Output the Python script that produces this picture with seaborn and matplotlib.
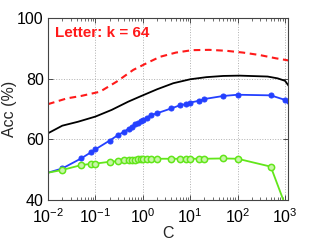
import numpy as np
import pandas as pd
import matplotlib
matplotlib.use("Agg")
import matplotlib.pyplot as plt
import matplotlib.ticker as mticker
import seaborn as sns

# smooth curves
c_red = [0.01, 0.025, 0.05, 0.125, 0.28, 0.63, 1.4, 2.3, 5, 11, 25, 57, 130, 290, 650, 1000, 1200]
acc_red = [71.6, 73.5, 74.3, 75.7, 79.0, 82.9, 85.6, 87.2, 88.6, 89.4, 89.5, 89.2, 88.6, 87.8, 86.7, 86.2, 86.0]

c_black = [0.01, 0.02, 0.043, 0.1, 0.22, 0.49, 0.87, 2, 4.4, 10, 22, 50, 110, 430, 700, 1000, 1200]
acc_black = [62.0, 64.5, 65.8, 67.5, 69.7, 72.4, 74.1, 76.5, 78.5, 79.8, 80.5, 80.9, 81.0, 80.7, 80.1, 79.3, 77.6]

# marked series
c_pts = [0.01, 0.02, 0.05, 0.08, 0.1, 0.2, 0.3, 0.4, 0.5, 0.6, 0.7, 0.8, 0.9,
         1, 1.2, 1.5, 2, 4, 6, 8, 10, 15, 20, 50, 100, 500, 1000]
acc_blue = [49.0, 50.4, 53.7, 55.7, 56.7, 59.6, 61.4, 62.5, 63.5, 64.2, 64.9, 65.5, 66.0,
            66.4, 67.1, 68.0, 68.6, 70.2, 71.2, 71.6, 72.1, 72.7, 73.3, 74.3, 74.7, 74.5, 73.0]
acc_green = [49.0, 49.9, 51.5, 51.9, 52.0, 52.6, 52.8, 53.1, 53.2, 53.3, 53.3, 53.4, 53.4,
             53.5, 53.5, 53.5, 53.6, 53.6, 53.6, 53.6, 53.6, 53.6, 53.6, 53.7, 53.6, 51.0, 38.5]
c_blue_tail = [1000, 2000]
acc_blue_tail = [73.0, 67.5]

title_text = "Letter: k = 64"

sns.set_style("ticks")
plt.rcParams['font.family'] = ['Liberation Sans', 'DejaVu Sans']
plt.rcParams['mathtext.fontset'] = 'custom'
plt.rcParams['mathtext.rm'] = 'Liberation Sans'
plt.rcParams['mathtext.it'] = 'Liberation Sans'

fig = plt.figure(figsize=(3.19, 2.40), dpi=100)
ax = fig.add_axes([48 / 319, 40 / 240, 240 / 319, 182 / 240])

red = "#ff1a1a"
blue = "#2440ff"
green = "#62e61a"

sns.lineplot(x=c_red, y=acc_red, ax=ax, color=red, linestyle=(0, (3.2, 2.2)), linewidth=1.5)
sns.lineplot(x=c_black, y=acc_black, ax=ax, color="black", linewidth=1.3)
sns.lineplot(x=c_blue_tail, y=acc_blue_tail, ax=ax, color=blue, linewidth=1.3)
sns.lineplot(x=c_pts, y=acc_blue, ax=ax, color=blue, linewidth=1.3, marker="o",
             markersize=3.6, markeredgecolor=blue, markerfacecolor=blue,
             markevery=slice(1, None))
sns.lineplot(x=c_pts, y=acc_green, ax=ax, color=green, linewidth=1.3, marker="o",
             markersize=4.5, markeredgecolor=green, markerfacecolor="#c8f5a8",
             markeredgewidth=1.1, markevery=slice(1, None))

ax.set_xscale("log")
ax.set_xlim(0.01, 10 ** 3.063)
ax.set_ylim(40, 100)
ax.set_xticks([1e-2, 1e-1, 1e0, 1e1, 1e2, 1e3])
ax.xaxis.set_major_formatter(mticker.LogFormatterMathtext())
ax.xaxis.set_minor_locator(mticker.LogLocator(base=10, subs=np.arange(2, 10), numticks=20))
ax.xaxis.set_minor_formatter(mticker.NullFormatter())
ax.set_yticks([40, 60, 80, 100])

ax.grid(True, which="major", linestyle=":", color="#b0b0b0", linewidth=0.7)
ax.tick_params(which="both", direction="in", top=True, right=True, colors="#333333",
               labelcolor="black", labelsize=11.5)
ax.tick_params(axis="x", which="major", pad=5)
ax.tick_params(axis="y", which="major", pad=3)
ax.tick_params(which="major", length=3.5, width=0.6)
ax.tick_params(which="minor", length=2, width=0.5)
for s in ax.spines.values():
    s.set_color("#444444")
    s.set_linewidth(0.8)

ax.set_xlabel("C", fontsize=11.5, labelpad=0)
ax.set_ylabel("Acc (%)", fontsize=11.5, labelpad=0)
ax.text(0.03, 0.955, title_text, transform=ax.transAxes, color=red,
        fontsize=11, fontweight="bold", va="top", ha="left")

fig.savefig("out.png", dpi=100)
